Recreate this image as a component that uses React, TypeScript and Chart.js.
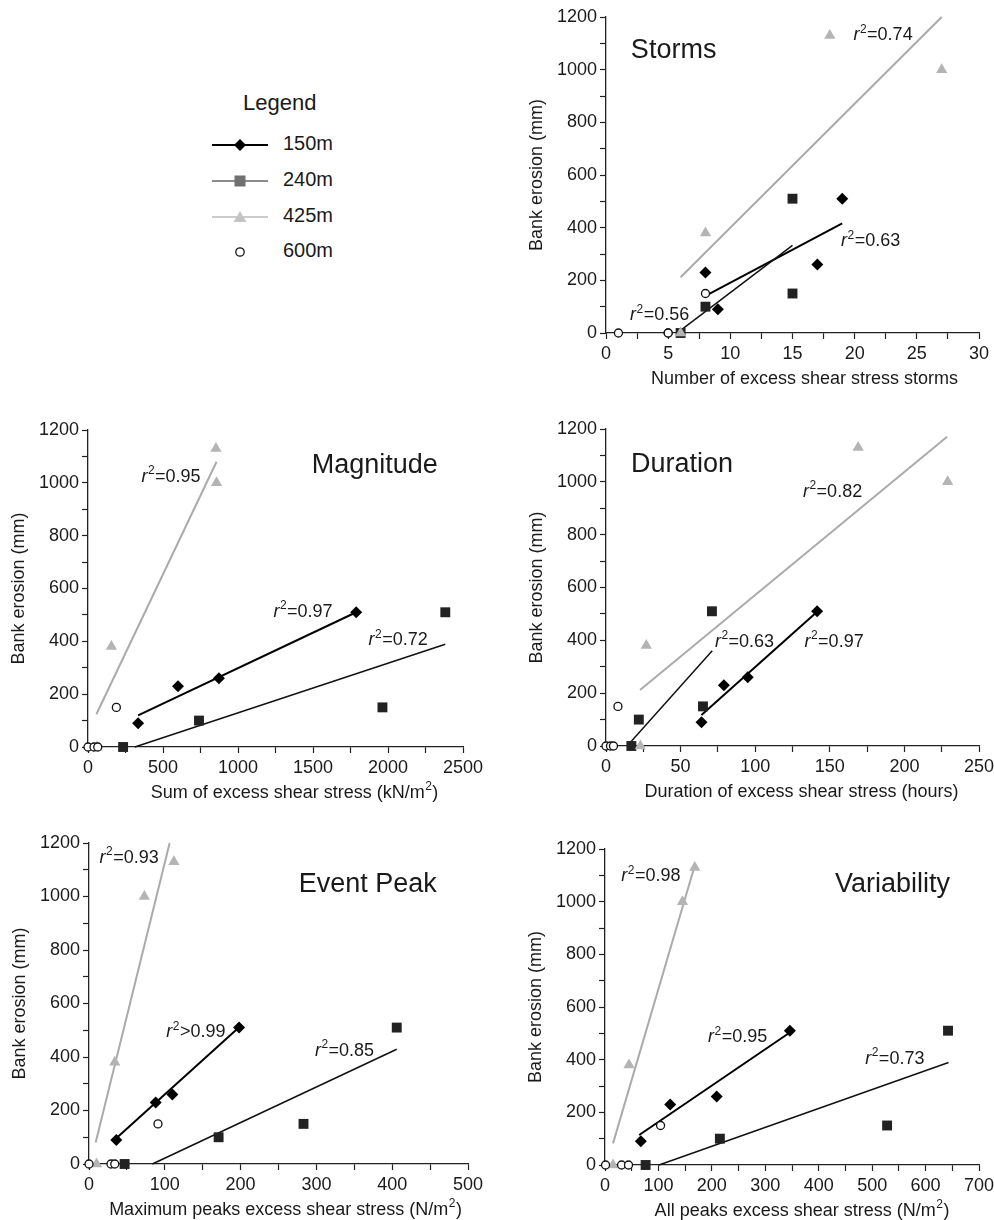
import React, { useEffect, useRef } from 'react';
import { Chart, registerables } from 'chart.js';

Chart.register(...registerables);

const FONT = '"Liberation Sans", Arial, Helvetica, sans-serif';
const INK = '#1a1a1a';

// ---- Bank erosion (mm) per site, same four events in every panel ----
const erosion150 = [90, 230, 260, 510];
const erosion240 = [0, 100, 150, 510];
const erosion425 = [0, 380, 1000, 1130];
const erosion600 = [0, 0, 0, 150];

const siteNames = ['150m', '240m', '425m', '600m'];
const yTicks = { min: 0, max: 1200, minor: 100, major: 200 };

// ---- Storms ----
const stormsX150 = [9, 8, 17, 19];
const stormsX240 = [6, 8, 15, 15];
const stormsX425 = [6, 8, 27, 18];
const stormsX600 = [1, 5, 5, 8];
const stormsFit150 = [[8, 141], [19, 416]];
const stormsFit240 = [[6, 10], [15, 333]];
const stormsFit425 = [[6, 212], [27, 1200]];
const stormsR2 = ['=0.63', '=0.56', '=0.74'];

// ---- Magnitude ----
const magX150 = [334, 600, 873, 1788];
const magX240 = [234, 740, 1963, 2382];
const magX425 = [60, 156, 857, 853];
const magX600 = [0, 40, 65, 189];
const magFit150 = [[334, 120], [1788, 510]];
const magFit240 = [[312, 0], [2382, 389]];
const magFit425 = [[56, 124], [857, 1080]];
const magR2 = ['=0.97', '=0.72', '=0.95'];

// ---- Duration ----
const durX150 = [64, 79, 95, 141.5];
const durX240 = [17, 22, 65, 71];
const durX425 = [23, 27, 229, 169];
const durX600 = [0, 3, 5, 8];
const durFit150 = [[64, 117], [141.5, 508]];
const durFit240 = [[16.7, 16], [71.2, 361]];
const durFit425 = [[22.8, 212], [228.6, 1171]];
const durR2 = ['=0.97', '=0.63', '=0.82'];

// ---- Event Peak ----
const peakX150 = [36, 88, 110, 198];
const peakX240 = [47, 171, 283, 406];
const peakX425 = [10, 34, 73, 112];
const peakX600 = [0, 29, 34, 91];
const peakFit150 = [[36, 96], [198, 511]];
const peakFit240 = [[83.6, 0], [406, 429]];
const peakFit425 = [[8.8, 80], [106.4, 1200]];
const peakR2 = ['>0.99', '=0.85', '=0.93'];

// ---- Variability ----
const varX150 = [67, 122, 209, 346];
const varX240 = [76, 215, 528, 642];
const varX425 = [15, 45, 145, 168];
const varX600 = [1, 31, 44, 104];
const varFit150 = [[64, 114], [346, 503]];
const varFit240 = [[101, 0], [643, 389]];
const varFit425 = [[15, 82], [168, 1137]];
const varR2 = ['=0.95', '=0.73', '=0.98'];

type Panel = {
  id: string;
  title: string;
  xLabel: [string, string, string];
  xMax: number;
  xMinor: number;
  xMajor: number;
  xs: number[][];
  fits: number[][][];
  r2: string[];
  // layout
  area: { l: number; t: number; r: number; b: number };
  titleAt: number[];
  r2At: number[][];
  xTitleDx: number;
};

const PANELS: Panel[] = [
  {
    id: 'storms', title: 'Storms', xLabel: ['Number of excess shear stress storms', '', ''],
    xMax: 30, xMinor: 2.5, xMajor: 5,
    xs: [stormsX150, stormsX240, stormsX425, stormsX600],
    fits: [stormsFit150, stormsFit240, stormsFit425], r2: stormsR2,
    area: { l: 606, t: 17, r: 979, b: 333 }, titleAt: [2.0, 1074],
    r2At: [[18.9, 354], [1.93, 73], [19.9, 1137]], xTitleDx: 12,
  },
  {
    id: 'magnitude', title: 'Magnitude', xLabel: ['Sum of excess shear stress (kN/m', '2', ')'],
    xMax: 2500, xMinor: 250, xMajor: 500,
    xs: [magX150, magX240, magX425, magX600],
    fits: [magFit150, magFit240, magFit425], r2: magR2,
    area: { l: 88, t: 430, r: 463, b: 747 }, titleAt: [1492, 1067],
    r2At: [[1236, 518], [1870, 410], [356, 1029]], xTitleDx: 19,
  },
  {
    id: 'duration', title: 'Duration', xLabel: ['Duration of excess shear stress (hours)', '', ''],
    xMax: 250, xMinor: 25, xMajor: 50,
    xs: [durX150, durX240, durX425, durX600],
    fits: [durFit150, durFit240, durFit425], r2: durR2,
    area: { l: 606, t: 429, r: 979, b: 746 }, titleAt: [16.7, 1064],
    r2At: [[133, 401], [73, 401], [132, 969]], xTitleDx: 9,
  },
  {
    id: 'peak', title: 'Event Peak', xLabel: ['Maximum peaks excess shear stress (N/m', '2', ')'],
    xMax: 500, xMinor: 50, xMajor: 100,
    xs: [peakX150, peakX240, peakX425, peakX600],
    fits: [peakFit150, peakFit240, peakFit425], r2: peakR2,
    area: { l: 89, t: 843, r: 468, b: 1164 }, titleAt: [276.6, 1044],
    r2At: [[102, 499], [298, 429], [14, 1150]], xTitleDx: 7,
  },
  {
    id: 'variability', title: 'Variability', xLabel: ['All peaks excess shear stress (N/m', '2', ')'],
    xMax: 700, xMinor: 50, xMajor: 100,
    xs: [varX150, varX240, varX425, varX600],
    fits: [varFit150, varFit240, varFit425], r2: varR2,
    area: { l: 605, t: 849, r: 979, b: 1165 }, titleAt: [430.6, 1065],
    r2At: [[193, 490], [487, 409], [30.6, 1103]], xTitleDx: 10,
  },
];

const WY = 80;
const HX = 60;
const PAD_T = 18;
const PAD_R = 34;

const isMajor = (v: number, step: number) => Math.abs(v / step - Math.round(v / step)) < 1e-6;

function drawR2(ctx: CanvasRenderingContext2D, x: number, y: number, rest: string) {
  const base = y + 6.5;
  ctx.textAlign = 'left';
  ctx.textBaseline = 'alphabetic';
  ctx.fillStyle = INK;
  ctx.font = `italic 18px ${FONT}`;
  ctx.fillText('r', x, base);
  let cx = x + ctx.measureText('r').width + 0.5;
  ctx.font = `12px ${FONT}`;
  ctx.fillText('2', cx, base - 7.5);
  cx += ctx.measureText('2').width + 0.5;
  ctx.font = `18px ${FONT}`;
  ctx.fillText(rest, cx, base);
}

function PanelChart({ p }: { p: Panel }) {
  const ref = useRef<HTMLCanvasElement>(null);
  const plotW = p.area.r - p.area.l;
  const plotH = p.area.b - p.area.t;
  const cw = WY + plotW + PAD_R;
  const ch = PAD_T + plotH + HX;

  useEffect(() => {
    if (!ref.current) return;
    const pts = (xs: number[], ys: number[]) => xs.map((x, i) => ({ x, y: ys[i] }));
    const fit = (f: number[][]) => f.map(([x, y]) => ({ x, y }));

    const textPlugin = {
      id: 'panelText',
      afterDatasetsDraw(chart: any) {
        const ctx: CanvasRenderingContext2D = chart.ctx;
        const xs = chart.scales.x;
        const ys = chart.scales.y;
        ctx.save();
        // panel title
        ctx.fillStyle = INK;
        ctx.font = `27px ${FONT}`;
        ctx.textAlign = 'left';
        ctx.textBaseline = 'middle';
        ctx.fillText(p.title, xs.getPixelForValue(p.titleAt[0]), ys.getPixelForValue(p.titleAt[1]));
        // r² labels
        p.r2.forEach((txt, i) => {
          drawR2(ctx, xs.getPixelForValue(p.r2At[i][0]), ys.getPixelForValue(p.r2At[i][1]), txt);
        });
        // x axis title (with superscript)
        const [main, sup, tail] = p.xLabel;
        ctx.font = `18px ${FONT}`;
        const wMain = ctx.measureText(main).width;
        const wTail = ctx.measureText(tail).width;
        ctx.font = `12px ${FONT}`;
        const wSup = sup ? ctx.measureText(sup).width + 1 : 0;
        const total = wMain + wSup + wTail;
        const cx = (chart.chartArea.left + chart.chartArea.right) / 2 + p.xTitleDx;
        const base = chart.chartArea.bottom + 44 + 6.5;
        let x0 = cx - total / 2;
        ctx.textAlign = 'left';
        ctx.textBaseline = 'alphabetic';
        ctx.font = `18px ${FONT}`;
        ctx.fillText(main, x0, base);
        x0 += wMain;
        if (sup) {
          ctx.font = `12px ${FONT}`;
          ctx.fillText(sup, x0 + 0.5, base - 7.5);
          x0 += wSup;
        }
        ctx.font = `18px ${FONT}`;
        ctx.fillText(tail, x0, base);
        ctx.restore();
      },
    };

    const lineDs = (f: number[][], color: string, width: number) => ({
      type: 'line' as const,
      data: fit(f),
      borderColor: color,
      borderWidth: width,
      pointRadius: 0,
      fill: false,
      showLine: true,
      tension: 0,
      clip: false as any,
      order: 10,
    });

    const chart = new Chart(ref.current, {
      type: 'scatter',
      data: {
        datasets: [
          lineDs(p.fits[2], '#aaaaaa', 2),
          lineDs(p.fits[1], '#111111', 1.5),
          lineDs(p.fits[0], '#000000', 2),
          {
            label: siteNames[1], data: pts(p.xs[1], erosion240), pointStyle: 'rect', pointRadius: 7,
            backgroundColor: '#222222', borderColor: '#222222', borderWidth: 0, showLine: false,
            clip: false as any, order: 4,
          },
          {
            label: siteNames[0], data: pts(p.xs[0], erosion150), pointStyle: 'rectRot', pointRadius: 6,
            backgroundColor: '#000000', borderColor: '#000000', borderWidth: 0, showLine: false,
            clip: false as any, order: 3,
          },
          {
            label: siteNames[2], data: pts(p.xs[2], erosion425), pointStyle: 'triangle', pointRadius: 6.5,
            backgroundColor: '#b4b4b4', borderColor: '#b4b4b4', borderWidth: 0, showLine: false,
            clip: false as any, order: 2,
          },
          {
            label: siteNames[3], data: pts(p.xs[3], erosion600), pointStyle: 'circle', pointRadius: 4,
            backgroundColor: '#ffffff', borderColor: '#111111', borderWidth: 1.3, showLine: false,
            clip: false as any, order: 1,
          },
        ] as any,
      },
      options: {
        animation: false,
        responsive: false,
        maintainAspectRatio: false,
        layout: { padding: { left: 0, top: PAD_T, right: PAD_R, bottom: 0 } },
        plugins: { legend: { display: false }, tooltip: { enabled: false }, title: { display: false } },
        events: [],
        scales: {
          x: {
            type: 'linear',
            min: 0,
            max: p.xMax,
            afterFit: (s: any) => { s.height = HX; },
            border: { color: '#222', width: 1.3 },
            grid: { drawOnChartArea: false, drawTicks: true, tickLength: 6, tickColor: '#222', tickWidth: 1.2 },
            ticks: {
              stepSize: p.xMinor,
              autoSkip: false,
              maxRotation: 0,
              minRotation: 0,
              padding: 4,
              color: INK,
              font: { family: FONT, size: 18 },
              callback: (v: any) => (isMajor(Number(v), p.xMajor) ? String(Math.round(Number(v))) : ''),
            },
            title: { display: false },
          },
          y: {
            type: 'linear',
            min: yTicks.min,
            max: yTicks.max,
            afterFit: (s: any) => { s.width = WY; },
            border: { color: '#222', width: 1.3 },
            grid: { drawOnChartArea: false, drawTicks: true, tickLength: 6, tickColor: '#222', tickWidth: 1.2 },
            ticks: {
              stepSize: yTicks.minor,
              autoSkip: false,
              padding: 3,
              color: INK,
              font: { family: FONT, size: 18 },
              callback: (v: any) => (isMajor(Number(v), yTicks.major) ? String(v) : ''),
            },
            title: {
              display: true,
              text: 'Bank erosion (mm)',
              color: INK,
              font: { family: FONT, size: 18 },
              padding: { top: 0, bottom: 0 },
            },
          },
        },
      } as any,
      plugins: [textPlugin],
    });
    return () => chart.destroy();
  }, []);

  return (
    <canvas
      ref={ref}
      width={cw}
      height={ch}
      style={{ position: 'absolute', left: p.area.l - WY, top: p.area.t - PAD_T, width: cw, height: ch }}
    />
  );
}

function LegendBox() {
  const rows = [145, 181, 217, 252];
  const lx0 = 212, lx1 = 268, mx = 240, tx = 283;
  return (
    <svg width={420} height={300} style={{ position: 'absolute', left: 0, top: 0 }}>
      <text x={243} y={104} dominantBaseline="middle" fontFamily={FONT} fontSize={22} fill={INK}>Legend</text>
      <line x1={lx0} x2={lx1} y1={rows[0]} y2={rows[0]} stroke="#000" strokeWidth={2} />
      <polygon points={`${mx},${rows[0] - 6} ${mx + 6},${rows[0]} ${mx},${rows[0] + 6} ${mx - 6},${rows[0]}`} fill="#000" />
      <line x1={lx0} x2={lx1} y1={rows[1]} y2={rows[1]} stroke="#666" strokeWidth={1.6} />
      <rect x={mx - 5.5} y={rows[1] - 5.5} width={11} height={11} fill="#707070" />
      <line x1={lx0} x2={lx1} y1={rows[2]} y2={rows[2]} stroke="#cccccc" strokeWidth={2} />
      <polygon points={`${mx},${rows[2] - 6} ${mx + 6.5},${rows[2] + 5} ${mx - 6.5},${rows[2] + 5}`} fill="#c4c4c4" />
      <circle cx={mx} cy={rows[3]} r={4.2} fill="#fff" stroke="#111" strokeWidth={1.3} />
      {siteNames.map((n, i) => (
        <text key={n} x={tx} y={rows[i]} dominantBaseline="middle" fontFamily={FONT} fontSize={20} fill={INK}>{n}</text>
      ))}
    </svg>
  );
}

export default function App() {
  return (
    <div style={{ position: 'absolute', left: 0, top: 0, width: 994, height: 1220, background: '#fff' }}>
      <LegendBox />
      {PANELS.map((p) => (
        <PanelChart key={p.id} p={p} />
      ))}
    </div>
  );
}
